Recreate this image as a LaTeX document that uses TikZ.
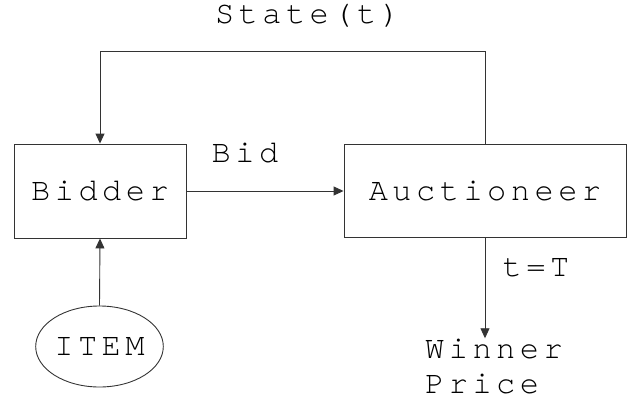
\documentclass[tikz,border=0pt]{standalone}
\usepackage{fontspec}
\setmonofont{TeX Gyre Cursor}[LetterSpace=14]
\usetikzlibrary{arrows.meta,shapes.geometric}
\begin{document}
\begin{tikzpicture}[x=1pt,y=-1pt,
  every node/.style={font=\ttfamily\fontsize{32}{35}\selectfont, inner sep=0pt},
  ln/.style={line width=0.9pt, draw=black!80},
  arr/.style={ln, -{Triangle[length=10pt,width=9pt]}},
  boxnode/.style={draw=black!80, line width=0.9pt, rectangle},
  lbl/.style={anchor=base}]
\useasboundingbox (0,0) rectangle (630,399);
\node[boxnode, minimum width=172pt, minimum height=94pt] (bidder) at (100,191) {Bidder};
\node[boxnode, minimum width=282pt, minimum height=93pt] (auct) at (485,191) {Auctioneer};
\node[draw=black!80, line width=0.9pt, ellipse, minimum width=121pt, minimum height=81pt] (item) at (99.5,346.5) {ITEM};
\node[lbl] (state) at (307.5,23) {State(t)};
\node[lbl] (bid) at (245,162) {Bid};
\node[lbl] (tT) at (536,276) {t=T};
\node[anchor=base west] (win) at (425,358) {Winner};
\node[anchor=base west] (price) at (425,393) {Price};
\draw[arr] (bidder.east) -- (auct.west);
\draw[arr] (auct.north) -- (auct.north |- 0,51) -| (bidder.north);
\draw[arr] (item.north) -- (bidder.south);
\draw[arr] (auct.south) -- (auct.south |- win.north);
\end{tikzpicture}
\end{document}
